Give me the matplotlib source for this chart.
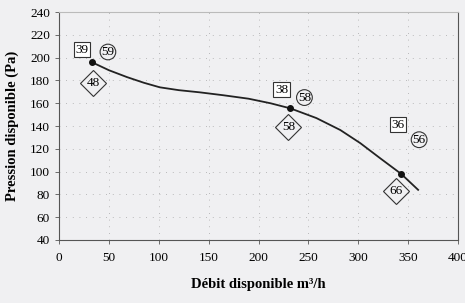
import matplotlib
matplotlib.use("Agg")
import matplotlib.pyplot as plt

# courbe
debit = [33, 50, 68, 85, 101, 120, 141, 165, 190, 212, 232, 258, 282, 302, 322, 343, 360]
pression = [196, 189, 183, 178, 174, 171.5, 169.6, 167, 164, 160, 155.5, 147, 136.5, 125, 111.7, 98, 84]

# points de fonctionnement
pts_x = [33, 232, 343]
pts_y = [196, 155.5, 98]

# etiquettes (carre, cercle, losange)
box_labels = ["39", "38", "36"]
box_x = [23, 223, 340]
box_y = [207, 172, 141]
circ_labels = ["59", "58", "56"]
circ_x = [49, 246, 361]
circ_y = [205, 165, 128]
diam_labels = ["48", "58", "66"]
diam_x = [34, 230, 338]
diam_y = [178, 139, 83]

xticks = [0, 50, 100, 150, 200, 250, 300, 350, 400]
yticks = [40, 60, 80, 100, 120, 140, 160, 180, 200, 220, 240]

plt.rcParams["font.family"] = ["Liberation Serif", "DejaVu Serif"]
bg = "#f0f0f2"

fig = plt.figure(figsize=(4.65, 3.03), dpi=100, facecolor=bg)
ax = fig.add_axes([0.127, 0.208, 0.858, 0.752], facecolor=bg)

ax.plot(debit, pression, color="#222222", lw=1.3)
ax.plot(pts_x, pts_y, "o", color="#111111", ms=4)

for lab, x, y in zip(box_labels, box_x, box_y):
    ax.text(x, y, lab, ha="center", va="center", fontsize=9.5,
            bbox=dict(boxstyle="square,pad=0.12", fc="white", ec="#333333", lw=0.8))
for lab, x, y in zip(circ_labels, circ_x, circ_y):
    ax.text(x, y, lab, ha="center", va="center", fontsize=9.5,
            bbox=dict(boxstyle="circle,pad=0.1", fc=bg, ec="#333333", lw=0.8))
for lab, x, y in zip(diam_labels, diam_x, diam_y):
    ax.plot(x, y, marker="D", ms=13.5, mfc=bg, mec="#333333", mew=0.8)
    ax.text(x, y, lab, ha="center", va="center", fontsize=9.5)

ax.set_xlim(0, 400)
ax.set_ylim(40, 240)
ax.set_xticks(xticks)
ax.set_yticks(yticks)
ax.tick_params(labelsize=9.5, length=3, width=0.6, color="#555555")
ax.tick_params(axis="x", pad=6)
ax.grid(True, color="#888888", lw=0.6, linestyle=(0, (1, 7)), alpha=0.7)

for s in ax.spines.values():
    s.set_color("#555555")
    s.set_linewidth(0.8)
ax.spines["top"].set_color("#bbbbbb")

ax.set_xlabel("Débit disponible m³/h", fontsize=10.5, fontweight="bold", labelpad=10)
ax.set_ylabel("Pression disponible (Pa)", fontsize=10.5, fontweight="bold", labelpad=8)

fig.savefig("out.png", dpi=100, facecolor=bg)
